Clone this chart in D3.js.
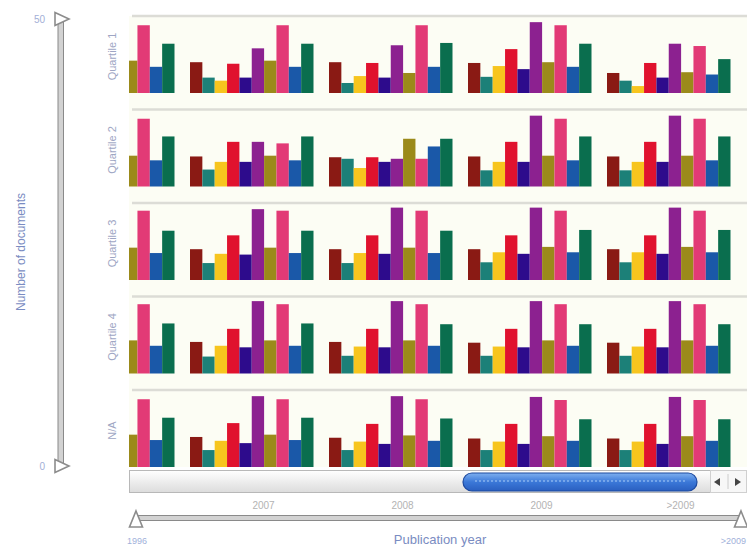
<!DOCTYPE html>
<html><head><meta charset="utf-8">
<script src="https://cdn.jsdelivr.net/npm/d3@7"></script>
<style>
html,body{margin:0;padding:0;background:#fff;}
svg{display:block;font-family:"Liberation Sans",Arial,sans-serif;}
</style></head>
<body>
<svg id="chart" width="747" height="547"></svg>
<script>
// ---------- DATA ----------
const categories = ["2006", "2007", "2008", "2009", ">2009"];
const seriesNames = ["S1", "S2", "S3", "S4", "S5", "S6", "S7", "S8", "S9", "S10"];
const seriesColors = ["#8a1a14", "#1c8078", "#f7c51e", "#e0122e", "#2d0b8c", "#8c2190", "#9b8a1a", "#e23a76", "#1a58a8", "#0a6e4e"];
const rowLabels = ["Quartile 1", "Quartile 2", "Quartile 3", "Quartile 4", "N/A"];
const yTicks = [0, 50];
const sliderLabels = ["1996", ">2009"];

const quartile1 = [
  [20, 10, 8, 19, 10, 29, 21, 44, 17, 32],
  [20, 10, 8, 19, 10, 29, 21, 44, 17, 32],
  [20, 6.5, 11, 19.5, 10, 31, 13, 44, 17, 32.5],
  [19.5, 10.5, 17.5, 28.5, 15.5, 46, 20, 44, 17, 32],
  [13, 8, 4.5, 19.5, 10, 32, 13.5, 30.5, 12, 22]
];
const quartile2 = [
  [19.5, 11, 16, 29, 16, 29, 20, 44, 17, 32.5],
  [19.5, 11, 16, 29, 16, 29, 20, 28, 17, 32.5],
  [19, 18, 12, 19, 16, 18, 31, 18, 26, 31],
  [19.5, 10.5, 16, 29, 16, 46, 20, 44, 17, 32.5],
  [19.5, 10.5, 16, 29, 16, 46, 20, 44, 17, 32.5]
];
const quartile3 = [
  [20, 11, 17, 29, 16.5, 46, 21, 45, 17.5, 32],
  [20, 11, 17, 29, 16.5, 46, 21, 45, 17.5, 32],
  [20, 11, 17.5, 29, 17, 47, 21, 45, 17.5, 32],
  [20, 11.5, 18, 29, 17, 47, 21.5, 45, 18, 32.5],
  [20, 11.5, 18, 29, 17, 47, 21.5, 45, 18, 32.5]
];
const quartile4 = [
  [20.5, 11, 18, 29, 17, 47, 21.5, 45, 18, 32.5],
  [20.5, 11, 18, 29, 17, 47, 21.5, 45, 18, 32.5],
  [20.5, 11.5, 17.5, 29, 17, 47, 21.5, 45, 18, 32],
  [20, 11.5, 17.5, 29, 17, 47, 21.5, 45, 18, 32],
  [20, 11.5, 17.5, 29, 17, 47, 21.5, 45, 18, 32]
];
const quartileNA = [
  [19.5, 11, 17, 28.5, 15.5, 46, 21, 44, 17.5, 32],
  [19.5, 11, 17, 28.5, 15.5, 46, 21, 44, 17.5, 32],
  [19, 11, 16.5, 28, 15, 46, 20.5, 44, 17, 31.5],
  [18.5, 11, 16.5, 28, 15, 45.5, 20, 43.5, 17, 31],
  [18.5, 11, 16.5, 28, 15, 45.5, 20, 43.5, 17, 31]
];
const rowValues = [quartile1, quartile2, quartile3, quartile4, quartileNA];

// ---------- LAYOUT ----------
const svg = d3.select("#chart");
const W = 747, H = 547;
const panelLeft = 129, panelRight = 747, panelTop = 16;
const rowPitch = 93.5, rowH = 77;
const groupWidth = 123.5;

const x = d3.scaleBand().domain(categories).range([51, 746]).paddingInner(0).paddingOuter(0);
const xInner = d3.scaleBand().domain(seriesNames).range([0, groupWidth]).padding(0);
const y = d3.scaleLinear().domain([0, 50]).range([rowH, 0]);
const color = d3.scaleOrdinal().domain(seriesNames).range(seriesColors);

const defs = svg.append("defs");
defs.append("clipPath").attr("id", "panelClip").append("rect")
  .attr("x", panelLeft).attr("y", 0).attr("width", panelRight - panelLeft).attr("height", H);

const trackGrad = defs.append("linearGradient").attr("id", "trackGrad").attr("x1", 0).attr("y1", 0).attr("x2", 0).attr("y2", 1);
trackGrad.append("stop").attr("offset", "0%").attr("stop-color", "#ffffff");
trackGrad.append("stop").attr("offset", "100%").attr("stop-color", "#dcdcdc");
const thumbGrad = defs.append("linearGradient").attr("id", "thumbGrad").attr("x1", 0).attr("y1", 0).attr("x2", 0).attr("y2", 1);
thumbGrad.append("stop").attr("offset", "0%").attr("stop-color", "#7fb0f0");
thumbGrad.append("stop").attr("offset", "50%").attr("stop-color", "#3b78d8");
thumbGrad.append("stop").attr("offset", "100%").attr("stop-color", "#2a5fc0");

// panel background
svg.append("rect").attr("x", panelLeft).attr("y", panelTop)
  .attr("width", panelRight - panelLeft).attr("height", rowPitch * 4 + rowH)
  .attr("fill", "#fcfdf4");

const plot = svg.append("g").attr("clip-path", "url(#panelClip)");

rowLabels.forEach((lab, i) => {
  const top = panelTop + rowPitch * i;
  const g = plot.append("g").attr("transform", `translate(0,${top})`);
  // separator line
  g.append("line").attr("x1", panelLeft + 3).attr("x2", panelRight).attr("y1", 0).attr("y2", 0)
    .attr("stroke", "#dcdcd6").attr("stroke-width", 2.5);
  const data = rowValues[i];
  categories.forEach((cat, ci) => {
    g.selectAll(null).data(data[ci]).enter().append("rect")
      .attr("x", (d, k) => x(cat) + xInner(seriesNames[k]))
      .attr("width", xInner.bandwidth())
      .attr("y", d => y(d))
      .attr("height", d => rowH - y(d))
      .attr("fill", (d, k) => color(seriesNames[k]));
  });
  // row label
  svg.append("text")
    .attr("transform", `translate(116,${top + rowH / 2 + 2}) rotate(-90)`)
    .attr("text-anchor", "middle")
    .attr("font-size", 11).attr("fill", "#9ea6c4")
    .text(lab);
});

// ---------- scrollbar ----------
const sb = svg.append("g");
sb.append("rect").attr("x", panelLeft + 0.5).attr("y", 470.5).attr("width", 581).attr("height", 22)
  .attr("fill", "url(#trackGrad)").attr("stroke", "#b8b8b8");
sb.append("rect").attr("x", 463).attr("y", 473).attr("width", 234).attr("height", 18).attr("rx", 9)
  .attr("fill", "url(#thumbGrad)").attr("stroke", "#1d4aa0").attr("stroke-width", 1.2);
sb.append("line").attr("x1", 475).attr("x2", 685).attr("y1", 481).attr("y2", 481)
  .attr("stroke", "#a9cdf8").attr("stroke-width", 1).attr("stroke-dasharray", "2,2");
sb.append("rect").attr("x", 710.5).attr("y", 470.5).attr("width", 36).attr("height", 22)
  .attr("fill", "#f7f7f7").attr("stroke", "#d0d0d0");
sb.append("path").attr("d", "M714,482 L720,478 L720,486 Z").attr("fill", "#444");
sb.append("path").attr("d", "M741,482 L735,478 L735,486 Z").attr("fill", "#444");
sb.append("line").attr("x1", 728).attr("x2", 728).attr("y1", 474).attr("y2", 489).attr("stroke", "#ccc");

// ---------- x axis labels ----------
categories.forEach(cat => {
  const cx = x(cat) + x.bandwidth() / 2 + 4;
  if (cx < panelLeft + 20) return;
  svg.append("text").attr("x", cx).attr("y", 509).attr("text-anchor", "middle")
    .attr("font-size", 10).attr("fill", "#b3b3b3").text(cat);
});

// ---------- bottom range slider ----------
const bs = svg.append("g");
bs.append("rect").attr("x", 136).attr("y", 515.5).attr("width", 606).attr("height", 5)
  .attr("fill", "#d2d2d2").attr("stroke", "#8a8a8a").attr("stroke-width", 1);
[136, 741].forEach(px => {
  bs.append("path").attr("d", `M${px},511 L${px + 6.5},527 L${px - 6.5},527 Z`)
    .attr("fill", "#fff").attr("stroke", "#8c8c8c").attr("stroke-width", 1.6);
});
svg.append("text").attr("x", 137).attr("y", 544).attr("text-anchor", "middle")
  .attr("font-size", 9).attr("fill", "#9fb1da").text(sliderLabels[0]);
svg.append("text").attr("x", 746).attr("y", 544).attr("text-anchor", "end")
  .attr("font-size", 9).attr("fill", "#9fb1da").text(sliderLabels[1]);
svg.append("text").attr("x", 440).attr("y", 544).attr("text-anchor", "middle")
  .attr("font-size", 13).attr("fill", "#7a8cc2").text("Publication year");

// ---------- left vertical slider ----------
const yAxisScale = d3.scaleLinear().domain([0, 50]).range([466, 19]);
const ls = svg.append("g");
ls.append("rect").attr("x", 58).attr("y", yAxisScale(50)).attr("width", 5.5).attr("height", yAxisScale(0) - yAxisScale(50))
  .attr("fill", "#d2d2d2").attr("stroke", "#8a8a8a").attr("stroke-width", 1);
yTicks.forEach(t => {
  const py = yAxisScale(t);
  ls.append("path").attr("d", `M55,${py - 6.5} L69,${py} L55,${py + 6.5} Z`)
    .attr("fill", "#fff").attr("stroke", "#8c8c8c").attr("stroke-width", 1.6);
  svg.append("text").attr("x", 45).attr("y", py + 4).attr("text-anchor", "end")
    .attr("font-size", 10).attr("fill", "#a2afd6").text(t);
});
svg.append("text").attr("transform", "translate(25,252) rotate(-90)")
  .attr("text-anchor", "middle").attr("font-size", 12).attr("fill", "#7a8cc2")
  .text("Number of documents");
</script>
</body></html>
